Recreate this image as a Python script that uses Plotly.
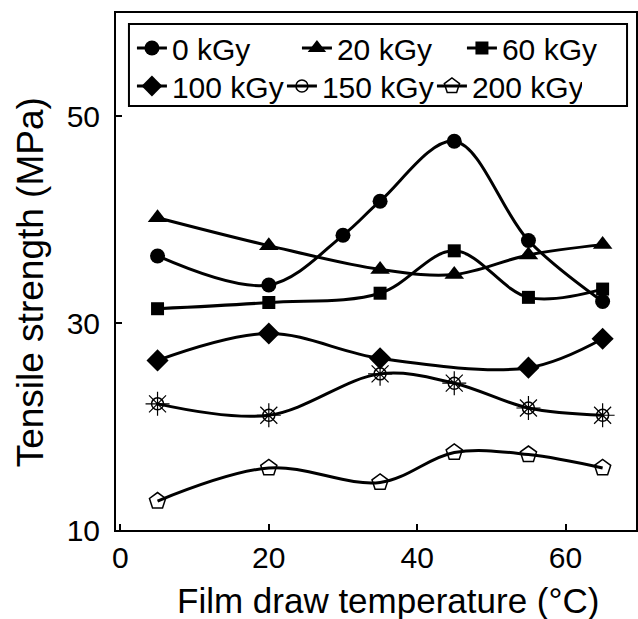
import plotly.graph_objects as go

# ---- data ----
temps_0 = [5, 20, 30, 35, 45, 55, 65]
ts_0 = [36.5, 33.7, 38.5, 41.8, 47.6, 38.0, 32.1]

temps = [5, 20, 35, 45, 55, 65]
ts_20 = [40.2, 37.5, 35.2, 34.7, 36.6, 37.6]
ts_60 = [31.4, 32.0, 32.9, 37.0, 32.5, 33.3]

temps_100 = [5, 20, 35, 55, 65]
ts_100 = [26.4, 29.0, 26.6, 25.7, 28.5]

ts_150 = [22.2, 21.1, 25.1, 24.2, 21.8, 21.1]
ts_200 = [12.8, 16.0, 14.6, 17.5, 17.3, 16.0]

x_ticks = [0, 20, 40, 60]
y_ticks = [10, 30, 50]

x_title = "Film draw temperature (°C)"
y_title = "Tensile strength (MPa)"

FONT = "Liberation Sans, Arial, sans-serif"
W, H = 638, 619
ML, MR, MT, MB = 116, 0, 13, 89
PW, PH = W - ML - MR, H - MT - MB


def px(xp):
    return (xp - ML) / PW


def py(yp):
    return (H - MB - yp) / PH


LINE = dict(color="black", width=3, shape="spline", smoothing=1)

fig = go.Figure()


def add(x, y, name, symbol, size, legend, mcolor="black", mline=0):
    fig.add_trace(go.Scatter(
        x=x, y=y, name=name, mode="lines+markers", line=LINE,
        marker=dict(symbol=symbol, size=size, color=mcolor,
                    line=dict(color="black", width=mline)),
        legend=legend,
    ))


add(temps_0, ts_0, "0 kGy", "circle", 15, "legend")
add(temps, ts_20, "20 kGy", "triangle-up", 17, "legend")
add(temps, ts_60, "60 kGy", "square", 13, "legend")
add(temps_100, ts_100, "100 kGy", "diamond", 17, "legend2")
# sun rays for 150 kGy markers
fig.add_trace(go.Scatter(
    x=temps, y=ts_150, mode="markers", showlegend=False, hoverinfo="skip",
    marker=dict(symbol="asterisk-open", size=20, color="black",
                line=dict(color="black", width=1.2)),
))
add(temps, ts_150, "150 kGy", "circle-open", 12, "legend2", mline=1.5)
add(temps, ts_200, "200 kGy", "pentagon-open", 17, "legend2", mline=1.5)

axis_common = dict(
    showline=True, mirror=True, linecolor="black", linewidth=2,
    ticks="inside", ticklen=6, tickwidth=1.5, tickcolor="black",
    showgrid=False, zeroline=False,
    tickfont=dict(family=FONT, size=30, color="black"),
)

fig.update_layout(
    width=W, height=H,
    margin=dict(l=ML, r=MR, t=MT, b=MB),
    paper_bgcolor="white", plot_bgcolor="white",
    font=dict(family=FONT, color="black"),
    xaxis=dict(range=[-0.6, 69.5], tickvals=x_ticks, **axis_common),
    yaxis=dict(range=[10, 60], tickvals=y_ticks, ticklabelstandoff=8, **axis_common),
    legend=dict(orientation="h", x=px(132), y=py(22), xanchor="left", yanchor="top",
                bgcolor="rgba(0,0,0,0)", borderwidth=0, itemwidth=30,
                entrywidth=120, entrywidthmode="pixels", tracegroupgap=0,
                font=dict(family=FONT, size=30, color="black")),
    legend2=dict(orientation="h", x=px(132), y=py(60), xanchor="left", yanchor="top",
                 bgcolor="rgba(0,0,0,0)", borderwidth=0, itemwidth=30,
                 entrywidth=105, entrywidthmode="pixels", tracegroupgap=0,
                 font=dict(family=FONT, size=30, color="black")),
    shapes=[dict(type="rect", xref="paper", yref="paper",
                 x0=px(129), x1=px(629), y0=py(106), y1=py(24),
                 line=dict(color="black", width=2), fillcolor="white", layer="below")],
    annotations=[
        dict(text=x_title, xref="paper", yref="paper", x=px(389), y=py(600),
             xanchor="center", yanchor="middle", showarrow=False,
             font=dict(family=FONT, size=35, color="black")),
        dict(text=y_title, xref="paper", yref="paper", x=px(30), y=py(282),
             xanchor="center", yanchor="middle", showarrow=False, textangle=-90,
             font=dict(family=FONT, size=37, color="black")),
    ],
)

fig.write_html("out.html")
